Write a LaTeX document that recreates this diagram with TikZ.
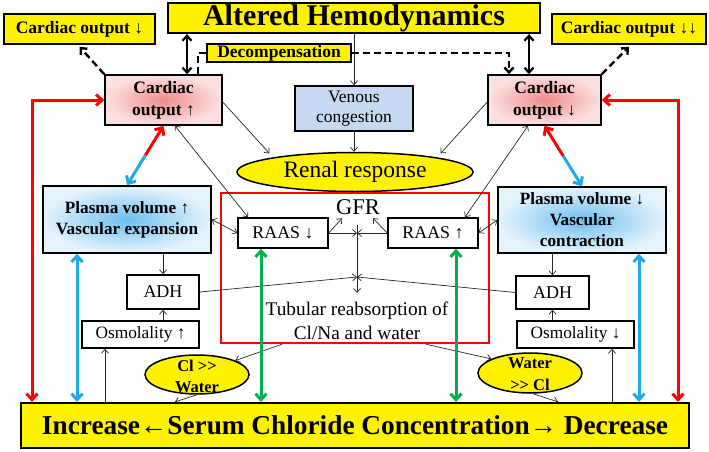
\documentclass[tikz,border=0pt]{standalone}
\usepackage{fontspec}
\setmainfont{Liberation Serif}
\usetikzlibrary{arrows.meta,calc,shapes.geometric}
\definecolor{myred}{RGB}{255,0,0}
\definecolor{myblue}{RGB}{30,170,230}
\definecolor{mygreen}{RGB}{0,176,80}
\definecolor{venous}{RGB}{198,217,240}
\definecolor{pvin}{RGB}{110,190,240}
\definecolor{pvout}{RGB}{228,243,252}
\definecolor{pkin}{RGB}{240,140,140}
\definecolor{pkout}{RGB}{252,224,224}
\begin{document}
\begin{tikzpicture}[x=1pt,y=-1pt,
  box/.style={draw=black,line width=1.5pt,inner sep=0pt,align=center},
  ybox/.style={box,fill=yellow},
  pinkbox/.style={box,inner color=pkin,outer color=pkout},
  bluebox/.style={box,inner color=pvin,outer color=pvout},
  yell/.style={ellipse,draw=black,line width=1.5pt,fill=yellow,inner sep=0pt},
  thinarr/.style={draw=black!85,line width=0.7pt,-{Straight Barb[length=4pt,width=7pt]}},
  thindbl/.style={draw=black!85,line width=0.7pt,{Straight Barb[length=4pt,width=7pt]}-{Straight Barb[length=4pt,width=7pt]}},
  bigdbl/.style={draw=black,line width=2.2pt,{Straight Barb[length=5pt,width=9pt]}-{Straight Barb[length=5pt,width=9pt]}},
  dsh/.style={draw=black,line width=2.4pt,dash pattern=on 7pt off 4pt},
  dsharr/.style={dsh,-{Straight Barb[length=5pt,width=9pt]}},
  colarr/.style={line width=3pt,{Straight Barb[length=6pt,width=11pt]}-{Straight Barb[length=6pt,width=11pt]}},
  colone/.style={line width=3pt,-{Straight Barb[length=6pt,width=11pt]}},
  fb/.style={font=\fontsize{17.5}{21}\selectfont\bfseries},
  fr/.style={font=\fontsize{17.5}{20}\selectfont}
]
\useasboundingbox (0,0) rectangle (709,452);

% top row
\node[ybox,line width=2.2pt,minimum width=372pt,minimum height=30pt,font=\fontsize{30}{30}\selectfont\bfseries] (T) at (354,18) {Altered Hemodynamics};
\node[ybox,minimum width=151pt,minimum height=30pt,fb] (CL) at (79.5,29) {Cardiac output ↓};
\node[ybox,minimum width=154pt,minimum height=30pt,fb] (CR) at (629,29) {Cardiac output ↓↓};
\node[ybox,minimum width=144pt,minimum height=18pt,fb] (D) at (279,53) {Decompensation};

% cardiac boxes
\node[pinkbox,minimum width=117pt,minimum height=50pt,fb,font=\fontsize{17.5}{22}\selectfont\bfseries] (CU) at (163.5,100) {Cardiac\\output ↑};
\node[pinkbox,minimum width=113pt,minimum height=50pt,fb,font=\fontsize{17.5}{22}\selectfont\bfseries] (CD) at (544.5,100) {Cardiac\\output ↓};
\node[box,fill=venous,minimum width=118pt,minimum height=45pt,fr] (V) at (354,108.5) {Venous\\congestion};

% renal response
\node[yell,minimum width=236pt,minimum height=39pt,font=\fontsize{23.5}{24}\selectfont] (R) at (355,172) {Renal response};

% red frame
\node[draw=myred,line width=2.5pt,minimum width=268pt,minimum height=150pt,inner sep=0pt] (RR) at (355,268) {};

% plasma boxes
\node[bluebox,minimum width=168pt,minimum height=67pt,font=\fontsize{17.2}{21}\selectfont\bfseries] (PU) at (127,219.5) {Plasma volume ↑\\Vascular expansion};
\node[bluebox,minimum width=168pt,minimum height=66pt,font=\fontsize{17.2}{21}\selectfont\bfseries] (PD) at (582,220) {Plasma volume ↓\\Vascular\\contraction};

% RAAS
\node[box,fill=white,minimum width=90pt,minimum height=30pt,font=\fontsize{17.9}{20}\selectfont] (AL) at (283,233) {RAAS ↓};
\node[box,fill=white,minimum width=90pt,minimum height=30pt,font=\fontsize{17.9}{20}\selectfont] (AR) at (433,233) {RAAS ↑};
\node[inner sep=0pt,font=\fontsize{22.5}{22.5}\selectfont] (G) at (358,207) {GFR};

% ADH and osmolality
\node[box,fill=white,minimum width=72pt,minimum height=34pt,font=\fontsize{18}{20}\selectfont] (HL) at (163,292) {ADH};
\node[box,fill=white,minimum width=73pt,minimum height=33pt,font=\fontsize{18}{20}\selectfont] (HR) at (552.5,292.5) {ADH};
\node[box,fill=white,minimum width=117pt,minimum height=27pt,font=\fontsize{17.3}{20}\selectfont] (OL) at (140.5,334.5) {Osmolality ↑};
\node[box,fill=white,minimum width=117pt,minimum height=27pt,font=\fontsize{17.3}{20}\selectfont] (OR) at (575.5,334.5) {Osmolality ↓};

% tubular text
\node[align=center,inner sep=0pt,font=\fontsize{19.3}{24}\selectfont] (TB) at (357,321) {Tubular reabsorption of\\Cl/Na and water};

% small ellipses
\node[yell,minimum width=104pt,minimum height=39pt] (CW) at (197,374.5) {};
\node[align=center,inner sep=0pt,font=\fontsize{16.5}{21}\selectfont\bfseries] (CWt) at (197,376) {Cl >{}>\\Water};
\node[yell,minimum width=104pt,minimum height=40pt] (WC) at (530,373) {};
\node[align=center,inner sep=0pt,font=\fontsize{16.5}{22}\selectfont\bfseries] (WCt) at (530,374.5) {Water\\>{}> Cl};

% bottom box
\node[ybox,line width=2.2pt,minimum width=668pt,minimum height=45pt,font=\fontsize{27.3}{28}\selectfont\bfseries] (B) at (355,425.5) {Increase←Serum Chloride Concentration→ Decrease};

% helper coordinates
\coordinate (X1) at (357,233);
\coordinate (X2) at (357,277);
\coordinate (Vt) at (357,225);
\coordinate (Vb) at (357,293);
\coordinate (xa) at (187,0);
\coordinate (xb) at (529,0);
\coordinate (xd1) at (198,0);
\coordinate (xd2) at (509,0);
\coordinate (xrl) at (32,0);
\coordinate (xrr) at (678,0);
\coordinate (xbl) at (77,0);
\coordinate (xbr) at (639,0);
\coordinate (xgl) at (261,0);
\coordinate (xgr) at (456,0);
\coordinate (xol) at (105,0);
\coordinate (xor) at (612,0);
\coordinate (xcw) at (175,0);
\coordinate (xwc) at (558,0);

% thick black connectors
\draw[bigdbl] (xa |- T.south) -- (xa |- CU.north);
\draw[bigdbl] (xb |- T.south) -- (xb |- CD.north);
\draw[dsharr] (CU.north west) -- ([shift={(0pt,-2pt)}]CL.south);
\draw[dsharr] (CD.north east) -- ([shift={(0pt,-2pt)}]CR.south);
\draw[dsh] (xd1 |- CU.north) -- (xd1 |- D.west) -- (D.west);
\draw[dsharr] (D.east) -- (xd2 |- D.east) -- (xd2 |- CD.north);

% thin connectors
\draw[thinarr] (V.north |- T.south) -- (V.north);
\draw[thinarr] (V.south) -- (V.south |- R.north);
\draw[thinarr] ([yshift=-2pt]CU.east) -- ([shift={(-3pt,4pt)}]R.170);
\draw[thinarr] ([yshift=-2pt]CD.west) -- ([shift={(3pt,4pt)}]R.10);
\draw[thindbl] ([xshift=11.5pt]CU.south) -- ([xshift=-35pt]AL.north);
\draw[thindbl] ([xshift=-16.5pt]CD.south) -- ([xshift=32pt]AR.north);
\draw[thindbl] (PU.east) -- (AL.west);
\draw[thindbl] (PD.west) -- (AR.east);
\draw[thinarr] (AL.east) -- ([shift={(-16pt,-3.5pt)}]G.south);
\draw[thinarr] (AR.west) -- ([shift={(15pt,-3.5pt)}]G.south);
\draw[thinarr] (AL.east) -- (X1);
\draw[thinarr] (AR.west) -- (X1);
\draw[thinarr] (Vt) -- (Vb);
\draw[thinarr] (HL.east) -- (X2);
\draw[thinarr] (HR.west) -- (X2);
\draw[thinarr] (HL.north |- PU.south) -- (HL.north);
\draw[thinarr] (HR.north |- PD.south) -- (HR.north);
\draw[thinarr] (HL.south |- OL.north) -- (HL.south);
\draw[thinarr] (HR.south |- OR.north) -- (HR.south);
\draw[thinarr] (xol |- B.north) -- (xol |- OL.south);
\draw[thinarr] (xor |- B.north) -- (xor |- OR.south);
\draw[thinarr] ([xshift=-73pt]RR.south) -- (CW.20);
\draw[thinarr] ([xshift=71pt]RR.south) -- (WC.160);
\draw[thinarr] (CW.south) -- (xcw |- B.north);
\draw[thinarr] ([xshift=3pt]WC.south) -- (xwc |- B.north);

% coloured connectors
\draw[colarr,myred] (xrl |- B.north) -- (xrl |- CU.west) -- (CU.west);
\draw[colarr,myred] (CD.east) -- (xrr |- CD.east) -- (xrr |- B.north);
\draw[colone,myred] ($(CU.south)!0.5!(PU.north)$) -- (CU.south);
\draw[colone,myblue] ($(CU.south)!0.5!(PU.north)$) -- (PU.north);
\draw[colone,myred] ($(CD.south)!0.5!(PD.north)$) -- (CD.south);
\draw[colone,myblue] ($(CD.south)!0.5!(PD.north)$) -- (PD.north);
\draw[colarr,myblue] (xbl |- PU.south) -- (xbl |- B.north);
\draw[colarr,myblue] (xbr |- PD.south) -- (xbr |- B.north);
\draw[colarr,mygreen] (xgl |- AL.south) -- (xgl |- B.north);
\draw[colarr,mygreen] (xgr |- AR.south) -- (xgr |- B.north);
\end{tikzpicture}
\end{document}
